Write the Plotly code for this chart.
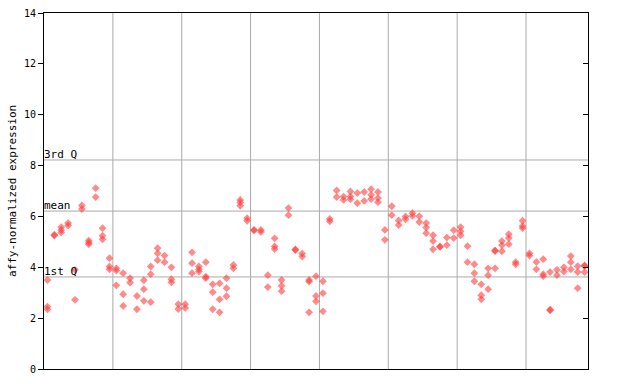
import plotly.graph_objects as go

# sample index (position along x) and replicate values per sample
sample_values = [
    [3.5, 2.45, 2.35],
    [5.28, 5.25],
    [5.58, 5.47, 5.37],
    [5.74, 5.64],
    [3.9, 2.72],
    [6.43, 6.29],
    [5.05, 4.97, 4.91],
    [7.11, 6.76],
    [5.54, 5.24, 5.1],
    [4.36, 4.03, 3.92],
    [3.96, 3.87, 3.29],
    [3.77, 2.94, 2.48],
    [3.57, 3.4],
    [2.87, 2.35],
    [3.49, 3.14, 2.68],
    [4.03, 3.73, 2.63],
    [4.75, 4.55, 4.28],
    [4.46, 4.2],
    [4.0, 3.53, 3.41],
    [2.55, 2.36],
    [2.55, 2.4],
    [4.59, 4.16, 3.77],
    [4.03, 3.92, 3.83],
    [4.2, 3.63, 3.57],
    [3.33, 3.02, 2.35],
    [3.37, 2.74, 2.23],
    [3.57, 3.18, 2.86],
    [4.09, 3.96],
    [6.65, 6.55, 6.42],
    [5.93, 5.83],
    [5.47, 5.45],
    [5.47, 5.39],
    [3.69, 3.22],
    [5.14, 4.82, 4.72],
    [3.5, 3.27, 3.06],
    [6.33, 6.05],
    [4.7, 4.68],
    [4.54, 4.42],
    [3.5, 3.44, 2.23],
    [3.65, 2.87, 2.66],
    [3.45, 2.98, 2.27],
    [5.9, 5.81],
    [7.02, 6.76],
    [6.78, 6.65],
    [6.98, 6.78, 6.68],
    [6.92, 6.52],
    [6.96, 6.61],
    [7.07, 6.85, 6.68],
    [6.96, 6.72, 6.56],
    [5.47, 5.08],
    [6.4, 6.05],
    [5.84, 5.66],
    [6.0, 5.89],
    [6.13, 6.02],
    [6.01, 5.78],
    [5.74, 5.56, 5.34],
    [5.26, 5.03, 4.71],
    [4.82, 4.8],
    [5.17, 4.87],
    [5.46, 5.15],
    [5.58, 5.41, 5.26],
    [4.83, 4.2],
    [4.12, 3.77, 3.45],
    [3.33, 2.9, 2.74],
    [3.96, 3.69, 3.14],
    [4.66, 4.64, 3.96],
    [5.03, 4.87, 4.63],
    [5.3, 5.15, 4.91],
    [4.2, 4.12],
    [5.83, 5.62, 5.54],
    [4.55, 4.46],
    [4.21, 3.92],
    [4.32, 3.73, 3.65],
    [3.81, 2.33, 2.31],
    [3.9, 3.69],
    [4.0, 3.83],
    [4.44, 4.2, 3.92],
    [4.04, 3.81, 3.18],
    [4.07, 4.05, 3.81],
]

y_ticks = [0, 2, 4, 6, 8, 10, 12, 14]
ref_labels = ["3rd Q", "mean", "1st Q"]
ref_values = [8.22, 6.21, 3.62]
x_grid = [10, 20, 30, 40, 50, 60, 70]

xs, ys = [], []
for i, vals in enumerate(sample_values):
    for v in vals:
        xs.append(i + 0.5)
        ys.append(v)

n = len(sample_values)
mono = "DejaVu Sans Mono"

fig = go.Figure()
fig.add_trace(go.Scatter(
    x=xs, y=ys, mode="markers",
    marker=dict(symbol="diamond", size=6, color="rgba(255,60,60,0.6)",
                line=dict(width=0)),
    showlegend=False, hoverinfo="skip"))
# invisible trace for right axis
fig.add_trace(go.Scatter(x=[0], y=[0], yaxis="y2", mode="markers",
                         marker=dict(opacity=0), showlegend=False,
                         hoverinfo="skip"))

shapes = []
for gx in x_grid:
    shapes.append(dict(type="line", xref="x", yref="paper", x0=gx, x1=gx,
                       y0=0, y1=1, line=dict(color="#aaaaaa", width=1),
                       layer="below"))
annotations = []
for lab, val in zip(ref_labels, ref_values):
    shapes.append(dict(type="line", xref="paper", yref="y", x0=0, x1=1,
                       y0=val, y1=val, line=dict(color="#aaaaaa", width=1),
                       layer="below"))
    annotations.append(dict(text=lab, xref="paper", yref="y", x=0, y=val,
                            xanchor="left", yanchor="bottom", showarrow=False,
                            font=dict(family=mono, size=11, color="black"),
                            xshift=-2, yshift=-3))
annotations.append(dict(text="affy-normalized expression", xref="paper",
                        yref="paper", x=0, y=0.5, xanchor="center",
                        yanchor="middle", textangle=-90, showarrow=False,
                        xshift=-32,
                        font=dict(family=mono, size=11, color="black")))

fig.update_layout(
    width=640, height=384,
    margin=dict(l=44, r=52, t=13, b=15),
    paper_bgcolor="white", plot_bgcolor="white",
    shapes=shapes, annotations=annotations,
    xaxis=dict(range=[0, n], showgrid=False, zeroline=False,
               showticklabels=False, ticks="", showline=True,
               linecolor="black", linewidth=1, mirror=True,
               automargin=False),
    yaxis=dict(range=[0, 14], tickvals=y_ticks, showgrid=False,
               zeroline=False, ticks="outside", ticklen=5,
               tickcolor="black", showline=True, linecolor="black",
               linewidth=1, automargin=False,
               tickfont=dict(family=mono, size=10, color="black")),
    yaxis2=dict(range=[0, 14], tickvals=y_ticks, overlaying="y", side="right",
                showgrid=False, zeroline=False, ticks="inside", ticklen=5,
                tickcolor="black", showticklabels=False, showline=True,
                linecolor="black", linewidth=1, automargin=False),
)

fig.write_html("out.html",
               config={"displayModeBar": False},
               post_script="document.body.style.margin='0';"
                           "document.body.style.overflow='hidden';")
